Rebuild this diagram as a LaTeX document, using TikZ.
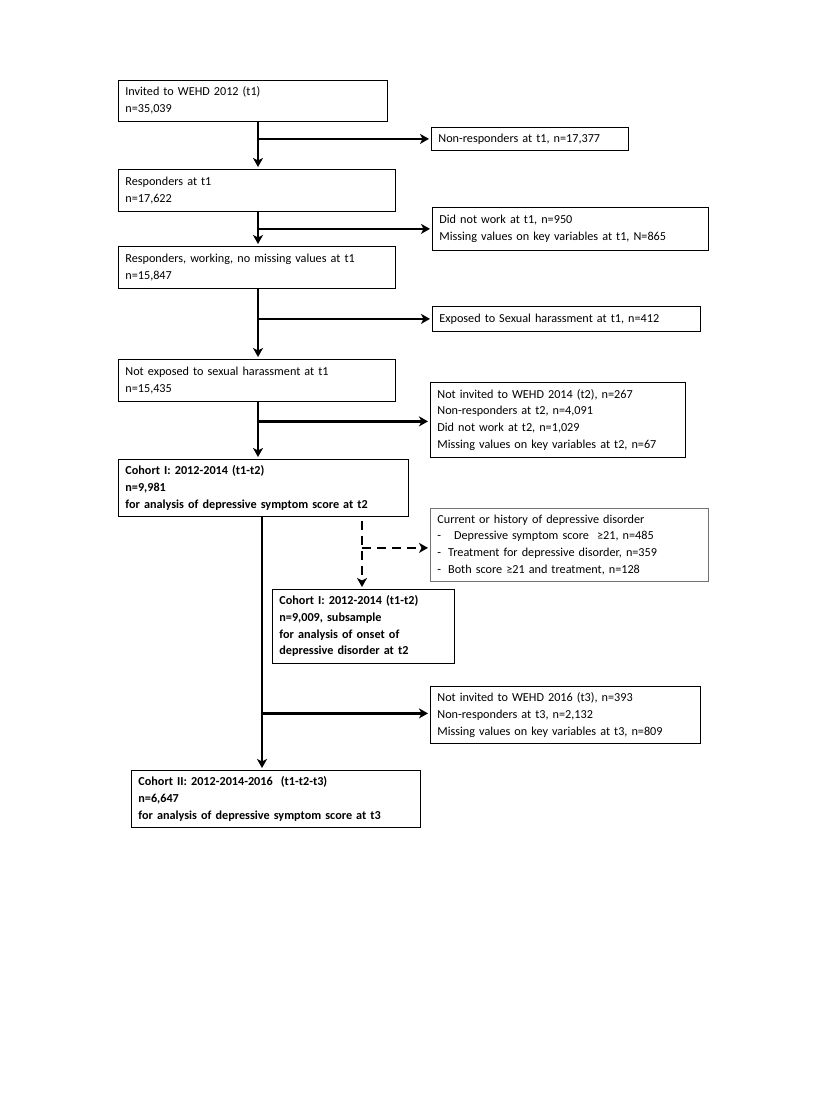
\documentclass[tikz,border=0pt]{standalone}
\usepackage{fontspec}
\setmainfont{Carlito}
\usetikzlibrary{arrows.meta}
\newcommand\tl[1]{\begin{tabular}{@{}l@{}}#1\end{tabular}}
\begin{document}
\begin{tikzpicture}[x=1pt,y=-1pt,
  box/.style={draw, line width=0.8pt, anchor=north west, align=left, inner xsep=7pt, inner ysep=0pt, font=\fontsize{12.2}{16.8}\selectfont},
  bbox/.style={box, font=\fontsize{12.2}{16.8}\selectfont\bfseries},
  arr/.style={line width=2.4pt, shorten >=2pt, -{Stealth[length=9pt,width=10pt,inset=2.5pt]}},
  darr/.style={arr, dash pattern=on 9pt off 6pt},
]
\useasboundingbox (0,0) rectangle (827,1102);

\node[box, text width=255pt, minimum height=41pt] (b1) at (118,80) {\tl{Invited to WEHD 2012 (t1)\\n=35,039}};
\node[box, text width=183pt, minimum height=23pt] (e1) at (431,127) {\tl{Non-responders\ at t1, n=17,377}};
\node[box, text width=263pt, minimum height=42pt] (b2) at (118,169) {\tl{Responders at t1\\n=17,622}};
\node[box, text width=262pt, minimum height=43pt] (e2) at (432,207) {\tl{Did not work\ at t1, n=950\\Missing values on key variables at t1, N=865}};
\node[box, text width=263pt, minimum height=42pt] (b3) at (118,246) {\tl{Responders, working, no missing values at t1\\n=15,847}};
\node[box, text width=254pt, minimum height=25pt] (e3) at (432,306) {\tl{Exposed to Sexual harassment at t1, n=412}};
\node[box, text width=263pt, minimum height=42pt] (b4) at (118,359) {\tl{Not exposed to sexual harassment at t1\\n=15,435}};
\node[box, text width=241pt, minimum height=75pt] (e4) at (430,382) {\tl{Not invited to WEHD 2014 (t2), n=267\\Non-responders at t2, n=4,091\\Did not work\ at t2, n=1,029\\Missing values on key variables at t2, n=67}};
\node[bbox, text width=276pt, minimum height=57pt] (b5) at (118,459) {\tl{Cohort I: 2012-2014 (t1-t2)\\n=9,981\\for analysis of depressive symptom score at t2}};
\node[box, draw=black!55, text width=264pt, minimum height=73pt] (e5) at (430,508) {\tl{Current or history of depressive disorder\\-\hspace{13pt}Depressive symptom score\ \ ≥21, n=485\\-\hspace{7pt}Treatment for depressive disorder, n=359\\-\hspace{7pt}Both score ≥21 and treatment, n=128}};
\node[bbox, text width=168pt, minimum height=74pt] (b6) at (272,589) {\tl{Cohort I: 2012-2014 (t1-t2)\\n=9,009, subsample\\for analysis of onset of\\depressive disorder at t2}};
\node[box, text width=256pt, minimum height=57pt] (e6) at (430,686) {\tl{Not invited to WEHD 2016 (t3), n=393\\Non-responders at t3, n=2,132\\Missing values on key variables at t3, n=809}};
\node[bbox, text width=275pt, minimum height=57pt] (b7) at (131,770) {\tl{Cohort II: 2012-2014-2016\ \ (t1-t2-t3)\\n=6,647\\for analysis of depressive symptom score at t3}};

\coordinate (va) at (258,0);
\coordinate (vb) at (262,0);
\coordinate (vd) at (362,0);

\draw[arr] (b1.south -| va) -- (b2.north -| va);
\draw[arr] (e1.west -| va) -- (e1.west);
\draw[arr] (b2.south -| va) -- (b3.north -| va);
\draw[arr] (e2.west -| va) -- (e2.west);
\draw[arr] (b3.south -| va) -- (b4.north -| va);
\draw[arr] (e3.west -| va) -- (e3.west);
\draw[arr] (b4.south -| va) -- (b5.north -| va);
\draw[arr] ([yshift=-1.5pt]e4.west -| va) -- ([yshift=-1.5pt]e4.west);
\draw[arr] (b5.south -| vb) -- (b7.north -| vb);
\draw[arr] ([yshift=1.5pt]e6.west -| vb) -- ([yshift=1.5pt]e6.west);
\draw[darr, shorten <=4pt] (b5.south -| vd) -- (b6.north -| vd);
\draw[darr] ([yshift=-3pt]e5.west -| vd) -- ([yshift=-3pt]e5.west);
\end{tikzpicture}
\end{document}
